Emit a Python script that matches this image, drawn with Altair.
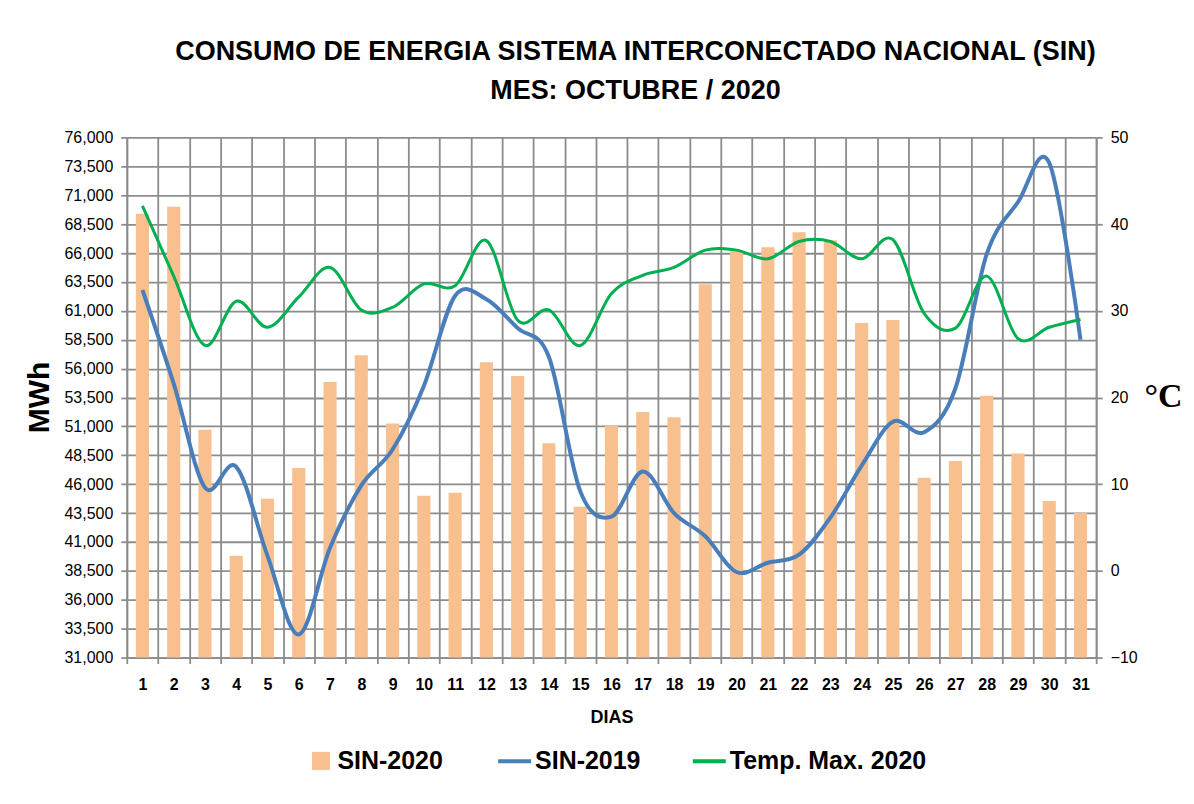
import altair as alt
import pandas as pd

# ---------------- data ----------------
days = list(range(1, 32))
sin_2020 = [69400, 70000, 50700, 39800, 44750, 47400, 54850, 57150, 51250, 45000,
            45250, 56550, 55350, 49550, 44050, 51050, 52250, 51800, 63300, 66150,
            66500, 67800, 67100, 59950, 60200, 46550, 48000, 53650, 48650, 44550, 43500]
sin_2019 = [62800, 54700, 45700, 47500, 39800, 33000, 40500, 45900, 49000, 54500,
            62300, 62000, 59500, 57000, 45400, 43200, 47100, 43500, 41500, 38400,
            39200, 39900, 43100, 47600, 51400, 50500, 54300, 65900, 70400, 73800, 58500]
temp_max_2020 = [42.1, 34.0, 26.0, 31.1, 28.1, 31.6, 35.0, 30.1, 30.4, 33.1,
                 32.9, 38.1, 28.9, 30.1, 26.0, 32.0, 34.1, 35.0, 37.0, 37.0,
                 36.0, 38.0, 38.0, 36.0, 38.2, 29.7, 28.0, 34.0, 26.8, 28.1, 29.0]
mwh_min, mwh_max = 31000, 76000
mwh_ticks = list(range(31000, 76001, 2500))
temp_ticks = list(range(-10, 51, 10))
title_lines = ["CONSUMO DE ENERGIA SISTEMA INTERCONECTADO NACIONAL (SIN)",
               "MES: OCTUBRE / 2020"]
bar_series = ["SIN-2020"]
line_series = ["SIN-2019", "Temp. Max. 2020"]

df = pd.DataFrame({"day": days, "sin2020": sin_2020, "sin2019": sin_2019,
                   "temp": temp_max_2020})

# ---------------- styles ----------------
GRID = "#8c8c8c"
BAR = "#F9C08F"
BLUE = "#4A7EBB"
GREEN = "#00B050"
SANS = "Liberation Sans, Arial, sans-serif"

x_axis = alt.Axis(labelAngle=0, tickBand="extent", grid=True, gridColor=GRID,
                  gridWidth=1.8, domainColor=GRID, domainWidth=1.8, tickColor=GRID,
                  tickWidth=1.8, tickSize=6, labelFont=SANS, labelFontWeight="bold",
                  labelFontSize=16, labelColor="black", labelPadding=13,
                  titleFont=SANS, titleFontSize=18, titleFontWeight="bold",
                  titleColor="black", titleY=60, titleBaseline="middle")
x_enc = alt.X("day:O", title="DIAS",
              scale=alt.Scale(paddingInner=0, paddingOuter=0), axis=x_axis)

y_left_scale = alt.Scale(domain=[mwh_min, mwh_max], nice=False, zero=False)
y_left_axis = alt.Axis(values=mwh_ticks, format=",d", grid=True, gridColor=GRID,
                       gridWidth=1.8, domainColor=GRID, domainWidth=1.8,
                       tickColor=GRID, tickWidth=1.8, tickSize=6,
                       labelFont=SANS, labelFontSize=16, labelColor="black",
                       labelPadding=8, titleFont=SANS, titleFontSize=30,
                       titleFontWeight="bold", titleColor="black", titleAngle=270,
                       titleX=-87, titleY=260, titleAlign="center",
                       titleBaseline="middle")

y_right_axis = alt.Axis(orient="right", values=temp_ticks, grid=False,
                        domainColor=GRID, domainWidth=1.8, tickColor=GRID,
                        tickWidth=1.8, tickSize=6, labelFont=SANS, labelFontSize=16,
                        labelColor="black", labelPadding=8,
                        titleFont="Liberation Serif, Times New Roman, serif",
                        titleFontSize=34, titleFontWeight="bold", titleColor="black",
                        titleAngle=0, titleX=67, titleY=260, titleAlign="center",
                        titleBaseline="middle")

base = alt.Chart(df)

bars = base.transform_calculate(s="'SIN-2020'").mark_bar(
    width=alt.RelativeBandSize(0.42)
).encode(
    x=x_enc,
    y=alt.Y("sin2020:Q", title="MWh", scale=y_left_scale, axis=y_left_axis),
    y2=alt.Y2Datum(mwh_min),
    fill=alt.Fill("s:N", scale=alt.Scale(domain=bar_series, range=[BAR]),
                  legend=alt.Legend(orient="none", legendX=182, legendY=612,
                                    title=None, symbolType="square", symbolSize=324,
                                    symbolStrokeWidth=0, labelFont=SANS,
                                    labelFontSize=25, labelFontWeight="bold",
                                    labelColor="black", labelOffset=4,
                                    labelLimit=400)),
)

stroke_scale = alt.Scale(domain=line_series, range=[BLUE, GREEN])
stroke_legend = alt.Legend(orient="none", legendX=370, legendY=606,
                           direction="horizontal", title=None, symbolType="stroke",
                           symbolSize=1089, symbolStrokeWidth=4, labelFont=SANS,
                           labelFontSize=25, labelFontWeight="bold",
                           labelColor="black", labelOffset=2, columnPadding=44,
                           labelLimit=400)

blue = base.transform_calculate(s="'SIN-2019'").mark_line(
    interpolate="cardinal", strokeWidth=4
).encode(
    x=x_enc,
    y=alt.Y("sin2019:Q", title="MWh", scale=y_left_scale, axis=y_left_axis),
    stroke=alt.Stroke("s:N", scale=stroke_scale, legend=stroke_legend),
)

green = base.transform_calculate(s="'Temp. Max. 2020'").mark_line(
    interpolate="cardinal", strokeWidth=3
).encode(
    x=x_enc,
    y=alt.Y("temp:Q", title="°C",
            scale=alt.Scale(domain=[-10, 50], nice=False, zero=False),
            axis=y_right_axis),
    stroke=alt.Stroke("s:N", scale=stroke_scale, legend=stroke_legend),
)

chart = alt.layer(alt.layer(bars, blue), green).resolve_scale(
    y="independent"
).properties(
    width=971,
    height=521,
    padding={"left": 119, "top": 129, "right": 90, "bottom": 125},
    autosize=alt.AutoSizeParams(type="none"),
    title=alt.TitleParams(text=title_lines, font=SANS, fontSize=27,
                          fontWeight="bold", color="black", anchor="middle",
                          frame="group", dx=24, offset=-3, lineHeight=40,
                          baseline="bottom"),
).configure_view(stroke=None)

chart.save("out.html", embed_options={"renderer": "svg", "actions": False})
